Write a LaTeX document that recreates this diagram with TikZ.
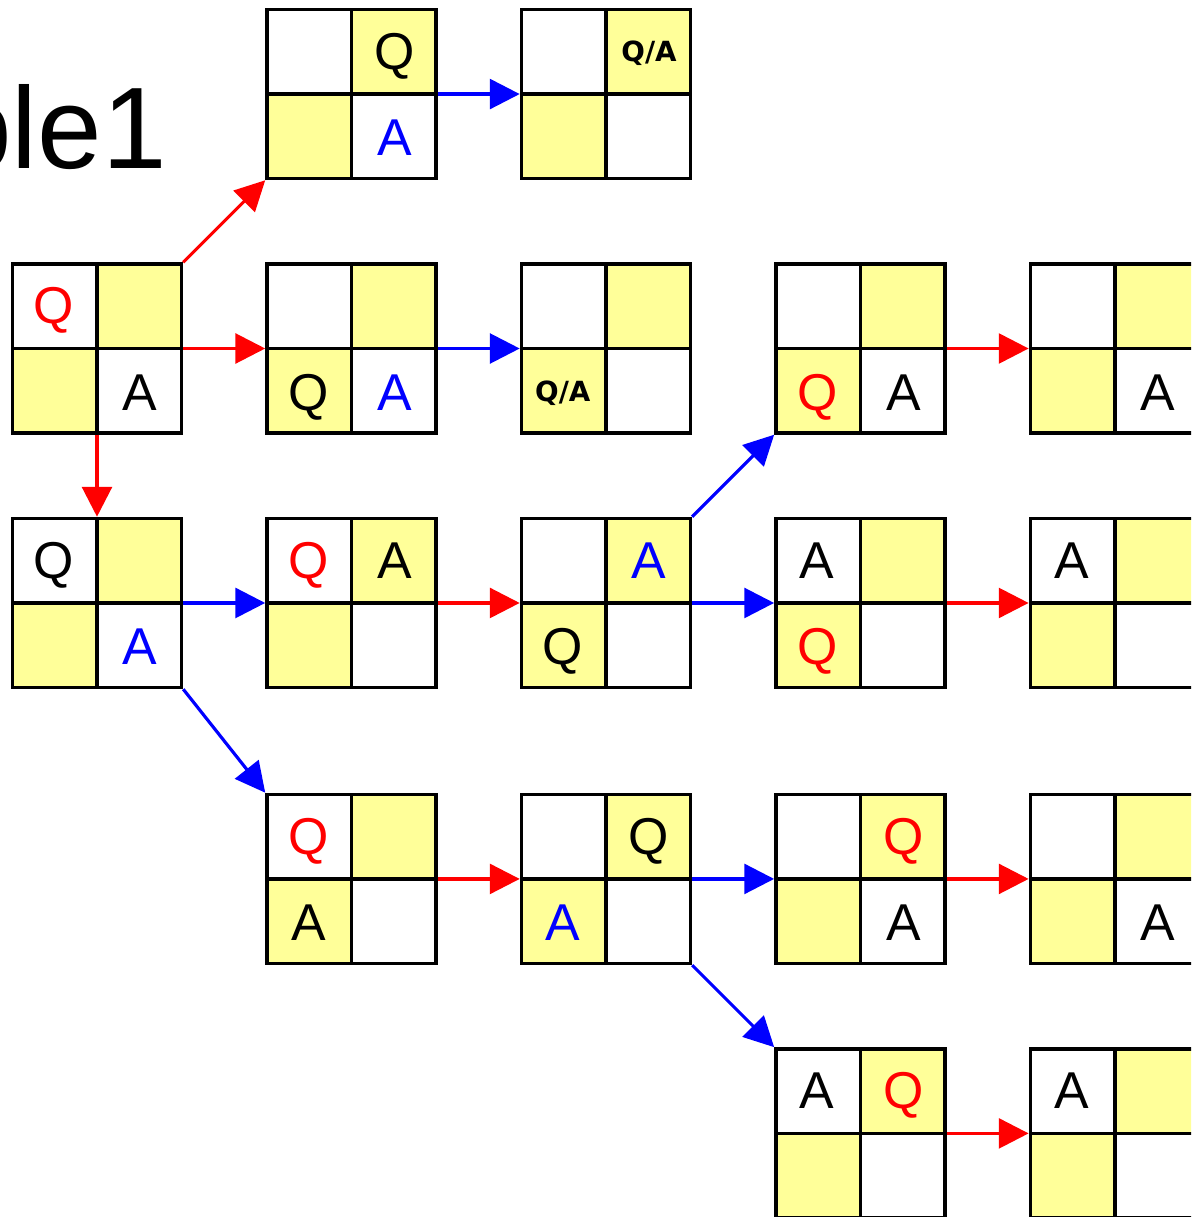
\documentclass[tikz,border=0pt]{standalone}
\usepackage{fontspec}
\setmainfont{Liberation Sans}
\newfontfamily\qafont{DejaVu Sans}
\usepackage{tikz}
\usetikzlibrary{arrows.meta,positioning,calc}
\definecolor{cellyellow}{HTML}{FFFF99}
\definecolor{qred}{HTML}{FF0000}
\definecolor{qblue}{HTML}{0000FF}

\begin{document}
\begin{tikzpicture}[
  x=0.02cm, y=-0.02cm,
  node distance=1.64cm,
  board/.style={draw=black,line width=2pt,fill=white,minimum size=3.38cm,inner sep=0pt,
    path picture={
      \fill[cellyellow] (path picture bounding box.north) rectangle (path picture bounding box.east);
      \fill[cellyellow] (path picture bounding box.west) rectangle (path picture bounding box.south);
      \draw[line width=2pt] (path picture bounding box.north) -- (path picture bounding box.south)
        (path picture bounding box.west) -- (path picture bounding box.east);}},
  lbl/.style={inner sep=0pt,text height=21.1pt,text depth=0pt,
              font=\fontsize{29.5pt}{30pt}\selectfont},
  small/.style={inner sep=0pt,text height=11.5pt,text depth=0pt,
                font=\qafont\bfseries\fontsize{15.8pt}{16pt}\selectfont},
  redarr/.style={-{Triangle[length=17pt,width=17pt]},line width=1.8pt,qred},
  bluearr/.style={-{Triangle[length=17pt,width=17pt]},line width=1.8pt,qblue}
]
\useasboundingbox (0,0) rectangle (1191,1217);
\clip (0,0) rectangle (1191,1217);

\node[anchor=base east,inner sep=0pt,font=\fontsize{66pt}{70pt}\selectfont] (title) at (167,168) {Example1};

% boards
\node[board] (b0) at (97,348.5) {};
\node[board,above right=1.64cm and 1.64cm of b0] (a1) {};
\node[board,right=of a1] (a2) {};
\node[board,right=of b0] (b1) {};
\node[board,right=of b1] (b2) {};
\node[board,right=of b2] (b3) {};
\node[board,right=of b3] (b4) {};
\node[board,below=of b0] (c0) {};
\node[board,right=of c0] (c1) {};
\node[board,right=of c1] (c2) {};
\node[board,right=of c2] (c3) {};
\node[board,right=of c3] (c4) {};
\node[board,below right=2.07cm and 1.64cm of c0] (d1) {};
\node[board,right=of d1] (d2) {};
\node[board,right=of d2] (d3) {};
\node[board,right=of d3] (d4) {};
\node[board,below right=1.64cm and 1.64cm of d2] (e3) {};
\node[board,right=of e3] (e4) {};

% letters
\node[lbl] (a1q) at ($(a1.center)!.5!(a1.north east)$) {Q};
\node[lbl,qblue] (a1a) at ($(a1.center)!.5!(a1.south east)$) {A};
\node[small] (a2qa) at ($(a2.center)!.5!(a2.north east)$) {Q/A};
\node[lbl,qred] (b0q) at ($(b0.center)!.5!(b0.north west)$) {Q};
\node[lbl] (b0a) at ($(b0.center)!.5!(b0.south east)$) {A};
\node[lbl] (b1q) at ($(b1.center)!.5!(b1.south west)$) {Q};
\node[lbl,qblue] (b1a) at ($(b1.center)!.5!(b1.south east)$) {A};
\node[small] (b2qa) at ($(b2.center)!.5!(b2.south west)$) {Q/A};
\node[lbl,qred] (b3q) at ($(b3.center)!.5!(b3.south west)$) {Q};
\node[lbl] (b3a) at ($(b3.center)!.5!(b3.south east)$) {A};
\node[lbl] (b4a) at ($(b4.center)!.5!(b4.south east)$) {A};
\node[lbl] (c0q) at ($(c0.center)!.5!(c0.north west)$) {Q};
\node[lbl,qblue] (c0a) at ($(c0.center)!.5!(c0.south east)$) {A};
\node[lbl,qred] (c1q) at ($(c1.center)!.5!(c1.north west)$) {Q};
\node[lbl] (c1a) at ($(c1.center)!.5!(c1.north east)$) {A};
\node[lbl,qblue] (c2a) at ($(c2.center)!.5!(c2.north east)$) {A};
\node[lbl] (c2q) at ($(c2.center)!.5!(c2.south west)$) {Q};
\node[lbl] (c3a) at ($(c3.center)!.5!(c3.north west)$) {A};
\node[lbl,qred] (c3q) at ($(c3.center)!.5!(c3.south west)$) {Q};
\node[lbl] (c4a) at ($(c4.center)!.5!(c4.north west)$) {A};
\node[lbl,qred] (d1q) at ($(d1.center)!.5!(d1.north west)$) {Q};
\node[lbl] (d1a) at ($(d1.center)!.5!(d1.south west)$) {A};
\node[lbl] (d2q) at ($(d2.center)!.5!(d2.north east)$) {Q};
\node[lbl,qblue] (d2a) at ($(d2.center)!.5!(d2.south west)$) {A};
\node[lbl,qred] (d3q) at ($(d3.center)!.5!(d3.north east)$) {Q};
\node[lbl] (d3a) at ($(d3.center)!.5!(d3.south east)$) {A};
\node[lbl] (d4a) at ($(d4.center)!.5!(d4.south east)$) {A};
\node[lbl] (e3a) at ($(e3.center)!.5!(e3.north west)$) {A};
\node[lbl,qred] (e3q) at ($(e3.center)!.5!(e3.north east)$) {Q};
\node[lbl] (e4a) at ($(e4.center)!.5!(e4.north west)$) {A};

% moves
\draw[redarr] (b0.north east) -- (a1.south west);
\draw[redarr] (b0.east) -- (b1.west);
\draw[redarr] (b0.south) -- (c0.north);
\draw[bluearr] (a1.east) -- (a2.west);
\draw[bluearr] (b1.east) -- (b2.west);
\draw[bluearr] (c0.east) -- (c1.west);
\draw[bluearr] (c0.south east) -- (d1.north west);
\draw[redarr] (c1.east) -- (c2.west);
\draw[bluearr] (c2.north east) -- (b3.south west);
\draw[bluearr] (c2.east) -- (c3.west);
\draw[redarr] (b3.east) -- (b4.west);
\draw[redarr] (c3.east) -- (c4.west);
\draw[redarr] (d1.east) -- (d2.west);
\draw[bluearr] (d2.east) -- (d3.west);
\draw[bluearr] (d2.south east) -- (e3.north west);
\draw[redarr] (d3.east) -- (d4.west);
\draw[redarr] (e3.east) -- (e4.west);
\end{tikzpicture}
\end{document}
